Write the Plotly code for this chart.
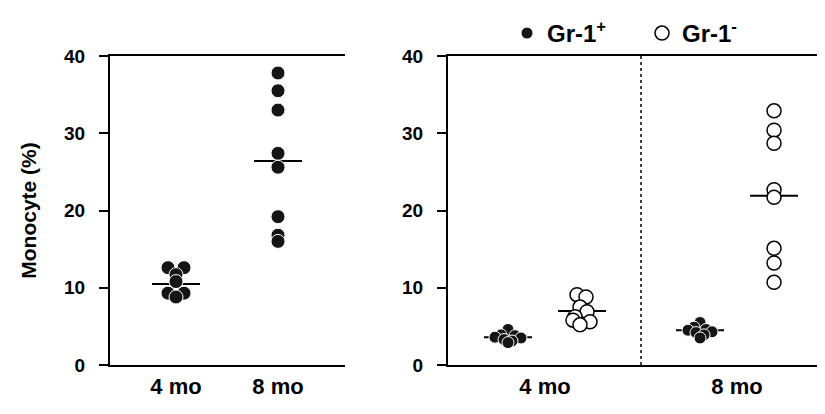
import plotly.graph_objects as go

# ---------------- data ----------------
left_groups = ["4 mo", "8 mo"]
left_4mo = [12.6, 12.6, 11.7, 10.8, 9.3, 9.3, 8.8]
left_8mo = [37.8, 35.5, 33.0, 27.4, 25.6, 19.2, 16.8, 16.0]
left_medians = [10.5, 26.4]

right_groups = ["4 mo", "8 mo"]
gr_pos_4mo = [4.6, 3.9, 3.8, 3.6, 3.5, 3.3, 3.1, 2.9]
gr_pos_8mo = [5.5, 4.9, 4.6, 4.5, 4.3, 4.2, 3.9, 3.5]
gr_neg_4mo = [9.1, 8.8, 7.5, 6.9, 6.25, 5.6, 5.8, 5.2]
gr_neg_8mo = [32.9, 30.4, 28.7, 22.7, 21.7, 15.1, 13.2, 10.7]
gr_pos_medians = [3.6, 4.5]
gr_neg_medians = [7.0, 21.9]

y_ticks = [0, 10, 20, 30, 40]
y_title = "Monocyte (%)"
legend_pos = "Gr-1<sup>+</sup>"
legend_neg = "Gr-1<sup>-</sup>"

# ---------------- layout helpers (positions, jitter in px) ----------------
W, H = 825, 414
OFF = 8  # page body margin offsets the figure on screen
FONT = "Liberation Sans, Arial, sans-serif"

left_pos = [0.0, 1.0]
left_px_per_unit = 102.0
right_pos_plus = [0.0, 2.595]
right_pos_minus = [1.0, 3.595]
right_px_per_unit = 74.0

jit_left_4 = [-8, 8, 0, 0, -8, 8, 0]
jit_left_8 = [0] * 8
jit_pos_4 = [0, -7, 7, -13, 13, -4, 4, 0]
jit_pos_8 = [0, -6, 6, -12, 12, -4, 4, 0]
jit_neg_4 = [-5, 4, -2, 5, -7, 8, -9, -2]
jit_neg_8 = [0] * 8

half_line_px = 24


def xs(center, jit, ppu):
    return [center + j / ppu for j in jit]


def median_segments(centers, meds, ppu):
    x, y = [], []
    for c, m in zip(centers, meds):
        x += [c - half_line_px / ppu, c + half_line_px / ppu, None]
        y += [m, m, None]
    return x, y


def fx(px):
    return (px - OFF) / W


def fy(py):
    return 1 - (py - OFF) / H


fig = go.Figure()

mx, my = median_segments(left_pos, left_medians, left_px_per_unit)
fig.add_trace(go.Scatter(x=mx, y=my, mode="lines", line=dict(color="black", width=2),
                         xaxis="x", yaxis="y", showlegend=False, hoverinfo="skip"))
mx2, my2 = median_segments(right_pos_plus + right_pos_minus,
                           gr_pos_medians + gr_neg_medians, right_px_per_unit)
fig.add_trace(go.Scatter(x=mx2, y=my2, mode="lines", line=dict(color="black", width=2),
                         xaxis="x2", yaxis="y2", showlegend=False, hoverinfo="skip"))

filled = dict(color="#151515", size=14, line=dict(color="white", width=1))
fig.add_trace(go.Scatter(x=xs(left_pos[0], jit_left_4, left_px_per_unit), y=left_4mo,
                         mode="markers", marker=filled, xaxis="x", yaxis="y",
                         showlegend=False, cliponaxis=False))
fig.add_trace(go.Scatter(x=xs(left_pos[1], jit_left_8, left_px_per_unit), y=left_8mo,
                         mode="markers", marker=filled, xaxis="x", yaxis="y",
                         showlegend=False, cliponaxis=False))

pos_marker = dict(color="#151515", size=12, line=dict(color="white", width=1))
neg_marker = dict(color="white", size=14, line=dict(color="black", width=1.5))
fig.add_trace(go.Scatter(x=xs(right_pos_plus[0], jit_pos_4, right_px_per_unit) +
                         xs(right_pos_plus[1], jit_pos_8, right_px_per_unit),
                         y=gr_pos_4mo + gr_pos_8mo, mode="markers", marker=pos_marker,
                         xaxis="x2", yaxis="y2", name=legend_pos, cliponaxis=False))
fig.add_trace(go.Scatter(x=xs(right_pos_minus[0], jit_neg_4, right_px_per_unit) +
                         xs(right_pos_minus[1], jit_neg_8, right_px_per_unit),
                         y=gr_neg_4mo + gr_neg_8mo, mode="markers", marker=neg_marker,
                         xaxis="x2", yaxis="y2", name=legend_neg, cliponaxis=False))

div_x = (right_pos_minus[0] + right_pos_plus[1]) / 2
fig.add_shape(type="line", xref="x2", yref="y2", x0=div_x, x1=div_x, y0=0, y1=40,
              line=dict(color="black", width=1.5, dash="dot"))

# screen-pixel geometry (as seen in the reference)
lx0, lx1 = 110, 345
rx0 = 448
ytop, ybot = 56, 365
screen_right = W + OFF

left_range = [left_pos[0] - 66 / left_px_per_unit, left_pos[1] + 67 / left_px_per_unit]
right_range = [right_pos_plus[0] - (508 - rx0) / right_px_per_unit,
               right_pos_plus[0] + (screen_right - 508) / right_px_per_unit]

tickfont = dict(family=FONT, size=19, color="black", weight="bold")
xtickfont = dict(family=FONT, size=22, color="black", weight="bold")

common_y = dict(range=[0, 40], tickvals=y_ticks, showline=True, linecolor="black",
                linewidth=2, ticks="outside", ticklen=9, tickwidth=1.5, tickcolor="black",
                ticklabelstandoff=10, automargin=False,
                showgrid=False, zeroline=False, tickfont=tickfont,
                domain=[fy(ybot), fy(ytop)])

common_x = dict(showline=True, mirror=True, linecolor="black", linewidth=2,
                ticks="outside", ticklen=1, tickcolor="rgba(0,0,0,0)",
                showgrid=False, zeroline=False, tickfont=xtickfont, automargin=False)

fig.update_layout(
    width=W, height=H, margin=dict(l=0, r=0, t=0, b=0, autoexpand=False),
    paper_bgcolor="white", plot_bgcolor="white",
    xaxis=dict(**common_x, domain=[fx(lx0), fx(lx1)], range=left_range,
               tickvals=left_pos, ticktext=left_groups),
    yaxis=dict(**common_y, anchor="x",
               title=dict(text=y_title, standoff=22,
                          font=dict(family=FONT, size=21, color="black", weight="bold"))),
    xaxis2=dict(**common_x, domain=[fx(rx0), 1.0], range=right_range,
                tickvals=[(right_pos_plus[0] + right_pos_minus[0]) / 2,
                          (right_pos_plus[1] + right_pos_minus[1]) / 2],
                ticktext=right_groups, anchor="y2"),
    yaxis2=dict(**common_y, anchor="x2"),
    showlegend=True,
    legend=dict(orientation="h", x=fx(507), xanchor="left", y=fy(11), yanchor="top",
                font=dict(family=FONT, size=24, color="black", weight="bold"),
                bgcolor="rgba(0,0,0,0)", itemwidth=30, entrywidth=90,
                entrywidthmode="pixels"),
)

fig.write_html("out.html")
